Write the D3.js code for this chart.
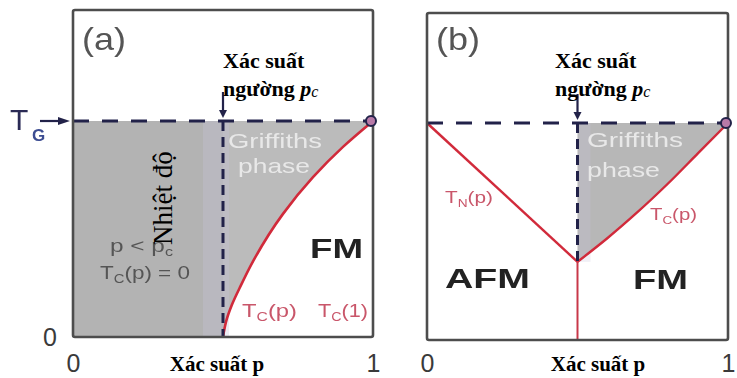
<!DOCTYPE html>
<html>
<head>
<meta charset="utf-8">
<script src="https://cdn.jsdelivr.net/npm/d3@7"></script>
<style>
  html, body { margin: 0; padding: 0; background: #fff; }
  svg { display: block; }
</style>
</head>
<body>
<svg id="chart" width="737" height="378"></svg>
<script>
// Percolation threshold and Griffiths temperature (T in units of T_G)
const pc = 0.5;
const TG = 1;
const xTicks = [0, 1];
const yTicks = [0];

// (a) Curie line T_C(p), rising from the threshold p_c up to T_C(1) = T_G
const tcA_p = [0.5, 0.51, 0.53, 0.56, 0.6, 0.7, 0.8, 0.9, 1.0];
const tcA_T = [0, 0.07, 0.15, 0.24, 0.35, 0.57, 0.74, 0.88, 1.0];

// (b) Neel line T_N(p) and Curie line T_C(p), meeting above p_c
const tnB_p = [0, 0.25, 0.5];
const tnB_T = [1, 0.68, 0.36];
const tcB_p = [0.5, 0.6, 0.7, 0.8, 0.9, 1.0];
const tcB_T = [0.36, 0.47, 0.59, 0.72, 0.86, 1.0];

const svg = d3.select("#chart");
const sans = "'Liberation Sans', Arial, Helvetica, sans-serif";
const serif = "'Liberation Serif', 'Times New Roman', serif";
const ink = "#23234a";
const red = "#d12a3a";
const tickRowY = 354;

const defs = svg.append("defs");
defs.append("filter").attr("id", "soft")
  .attr("filterUnits", "userSpaceOnUse")
  .attr("x", 0).attr("y", 0).attr("width", 737).attr("height", 378)
  .append("feGaussianBlur").attr("stdDeviation", 0.45);

const zip = (ps, ts) => ps.map((p, i) => ({ p, T: ts[i] }));

// sans label, fitted to the given width
function label(g, str, x, y, size, width, fill, weight) {
  const t = g.append("text")
    .attr("x", x).attr("y", y)
    .attr("font-family", sans)
    .attr("font-size", size)
    .attr("font-weight", weight || "normal")
    .attr("fill", fill);
  if (typeof str === "string") {
    t.text(str);
  } else {
    str.forEach(part => {
      t.append("tspan")
        .attr("font-size", part.sub ? size * 0.66 : size)
        .attr("dy", part.dy || 0)
        .text(part.s);
    });
  }
  if (width) t.attr("textLength", width).attr("lengthAdjust", "spacingAndGlyphs");
  return t;
}

const tcParts = (sub, arg) => [
  { s: "T" }, { s: sub, sub: true, dy: 4 }, { s: arg, dy: -4 }
];

function panel(cfg) {
  const x = d3.scaleLinear().domain([0, 1]).range([cfg.left, cfg.right]);
  const y = d3.scaleLinear().domain([0, 1]).range([cfg.bottom, cfg.bottom - cfg.unit]);
  const g = svg.append("g").attr("filter", "url(#soft)");
  const yTop = cfg.top;

  const line = d3.line().x(d => x(d.p)).y(d => y(d.T)).curve(d3.curveMonotoneY);
  const griffiths = d3.area()
    .y(d => y(d.T)).x0(x(pc)).x1(d => x(d.p))
    .curve(d3.curveMonotoneY);

  cfg.draw(g, x, y, line, griffiths);

  // T_G level
  g.append("line")
    .attr("x1", x(0)).attr("x2", x(1))
    .attr("y1", y(TG)).attr("y2", y(TG))
    .attr("stroke", ink).attr("stroke-width", 3)
    .attr("stroke-dasharray", "16,13");

  // frame
  g.append("rect")
    .attr("x", x(0)).attr("y", yTop)
    .attr("width", x(1) - x(0)).attr("height", y(0) - yTop)
    .attr("rx", 2)
    .attr("fill", "none").attr("stroke", "#4d4d4d").attr("stroke-width", 2.6);

  // end point T_C(1) = T_G
  g.append("circle")
    .attr("cx", x(1) - 2).attr("cy", y(TG)).attr("r", 5)
    .attr("fill", "#b87aa8").attr("stroke", ink).attr("stroke-width", 2);

  // arrow marking p_c
  const ax = x(pc), ay = y(TG);
  g.append("line").attr("x1", ax).attr("x2", ax)
    .attr("y1", ay - 29).attr("y2", ay - 8)
    .attr("stroke", ink).attr("stroke-width", 2.2);
  g.append("path")
    .attr("d", `M${ax - 4},${ay - 11} L${ax + 4},${ay - 11} L${ax},${ay - 3} Z`)
    .attr("fill", ink);

  // panel letter
  label(g, cfg.letter, cfg.left + 9, 50, 32, 44, "#555");

  // x ticks
  const xa = svg.append("g")
    .attr("transform", `translate(0,${tickRowY})`)
    .call(d3.axisBottom(x).tickValues(xTicks).tickSize(0).tickPadding(0).tickFormat(d3.format("d")));
  xa.select(".domain").remove();
  xa.selectAll("text")
    .attr("font-family", sans).attr("font-size", 25)
    .attr("fill", "#3a3a3a");

  // overlaid captions (crisp)
  const cap = svg.append("g").attr("font-family", serif).attr("fill", "#000");
  cap.append("text").attr("x", cfg.capX).attr("y", 68)
    .attr("font-size", 22).attr("font-weight", "bold").text("Xác suất");
  const t2 = cap.append("text").attr("x", cfg.capX).attr("y", 96)
    .attr("font-size", 22).attr("font-weight", "bold");
  t2.append("tspan").text("ngường ");
  t2.append("tspan").attr("font-style", "italic").text("p");
  t2.append("tspan").attr("font-style", "italic").attr("font-weight", "normal")
    .attr("font-size", 16).attr("dy", 1).text("c");

  cap.append("text")
    .attr("x", cfg.xLabelX).attr("y", 371)
    .attr("text-anchor", "middle")
    .attr("font-size", 21).attr("font-weight", "bold")
    .text("Xác suất p");

  return { g, x, y };
}

// ---------- (a) diluted ferromagnet ----------
const A = panel({
  letter: "(a)", left: 73, right: 373, bottom: 337, unit: 216, top: 10,
  capX: 223, xLabelX: 217,
  draw(g, x, y, line, griffiths) {
    const tc = zip(tcA_p, tcA_T);
    // no long-range order below p_c
    g.append("rect")
      .attr("x", x(0)).attr("y", y(TG))
      .attr("width", x(pc) - x(0)).attr("height", y(0) - y(TG))
      .attr("fill", "#b3b3b3");
    // Griffiths phase between p_c and T_C(p)
    g.append("path").datum(tc).attr("d", griffiths).attr("fill", "#bbbbbb");
    // bluish haze along the threshold
    g.append("rect")
      .attr("x", x(pc) - 20).attr("y", y(TG))
      .attr("width", 26).attr("height", y(0) - y(TG))
      .attr("fill", "#c6c3dc").attr("opacity", 0.3);
    g.append("path").datum(tc).attr("d", line)
      .attr("fill", "none").attr("stroke", red).attr("stroke-width", 2.6);
    // threshold p_c
    g.append("line")
      .attr("x1", x(pc)).attr("x2", x(pc))
      .attr("y1", y(TG)).attr("y2", y(0))
      .attr("stroke", ink).attr("stroke-width", 3)
      .attr("stroke-dasharray", "10,6");

    label(g, "Griffiths", 228, 148, 21, 94, "#e8e8e8");
    label(g, "phase", 238, 173, 21, 72, "#e8e8e8");
    label(g, "FM", 310, 258, 28, 53, "#222", "bold");
    label(g, [{ s: "p < p" }, { s: "c", sub: true, dy: 4 }], 110, 252, 18, 63, "#555");
    label(g, tcParts("C", "(p) = 0"), 100, 279, 18, 90, "#555");
    label(g, tcParts("C", "(p)"), 242, 317, 18, 55, "#c9576a");
    label(g, tcParts("C", "(1)"), 318, 317, 18, 50, "#c9576a");
  }
});

// y tick and T_G marker for (a)
{
  const { g, x, y } = A;
  const ya = svg.append("g")
    .attr("transform", `translate(${x(0) - 16},0)`)
    .call(d3.axisLeft(y).tickValues(yTicks).tickSize(0).tickPadding(0).tickFormat(d3.format("d")));
  ya.select(".domain").remove();
  ya.selectAll("text").attr("font-family", sans).attr("font-size", 25).attr("fill", "#3a3a3a");

  const yy = y(TG);
  g.append("text").attr("x", 10).attr("y", yy + 9)
    .attr("font-family", sans).attr("font-size", 30).attr("fill", "#2b2b55").text("T");
  g.append("text").attr("x", 32).attr("y", yy + 20)
    .attr("font-family", sans).attr("font-size", 17).attr("font-weight", "bold")
    .attr("fill", "#3d4d92").text("G");
  g.append("line").attr("x1", 40).attr("x2", 62).attr("y1", yy).attr("y2", yy)
    .attr("stroke", ink).attr("stroke-width", 2.2);
  g.append("path").attr("d", `M58,${yy - 4} L70,${yy} L58,${yy + 4} Z`).attr("fill", ink);

  svg.append("text")
    .attr("transform", `translate(172,198) rotate(-90)`)
    .attr("text-anchor", "middle")
    .attr("font-family", serif).attr("font-size", 27).attr("fill", "#000")
    .text("Nhiệt độ");
}

// ---------- (b) competing AFM / FM order ----------
panel({
  letter: "(b)", left: 427, right: 728, bottom: 340, unit: 217, top: 13,
  capX: 555, xLabelX: 598,
  draw(g, x, y, line, griffiths) {
    const tc = zip(tcB_p, tcB_T);
    const tn = zip(tnB_p, tnB_T);
    g.append("path").datum(tc).attr("d", griffiths).attr("fill", "#b7b7b7");
    g.append("rect")
      .attr("x", x(pc) + 1).attr("y", y(TG))
      .attr("width", 12).attr("height", y(tcB_T[0]) - y(TG))
      .attr("fill", "#c6c3dc").attr("opacity", 0.25);
    g.append("path").datum(tn)
      .attr("d", d3.line().x(d => x(d.p)).y(d => y(d.T)))
      .attr("fill", "none").attr("stroke", red).attr("stroke-width", 2.4);
    g.append("path").datum(tc).attr("d", line)
      .attr("fill", "none").attr("stroke", red).attr("stroke-width", 2.4);
    // AFM / FM boundary below the meeting point
    g.append("line")
      .attr("x1", x(pc)).attr("x2", x(pc))
      .attr("y1", y(tcB_T[0])).attr("y2", y(0))
      .attr("stroke", "#c8384a").attr("stroke-width", 2);
    // threshold p_c down to the meeting point
    g.append("line")
      .attr("x1", x(pc)).attr("x2", x(pc))
      .attr("y1", y(TG)).attr("y2", y(tcB_T[0]))
      .attr("stroke", ink).attr("stroke-width", 3)
      .attr("stroke-dasharray", "10,6");

    label(g, "Griffiths", 587, 147, 21, 96, "#e8e8e8");
    label(g, "phase", 587, 177, 21, 73, "#e8e8e8");
    label(g, tcParts("N", "(p)"), 445, 203, 16, 48, "#c9576a");
    label(g, tcParts("C", "(p)"), 650, 220, 16, 47, "#c9576a");
    label(g, "AFM", 445, 288, 28, 85, "#222", "bold");
    label(g, "FM", 633, 289, 28, 55, "#222", "bold");
  }
});
</script>
</body>
</html>
